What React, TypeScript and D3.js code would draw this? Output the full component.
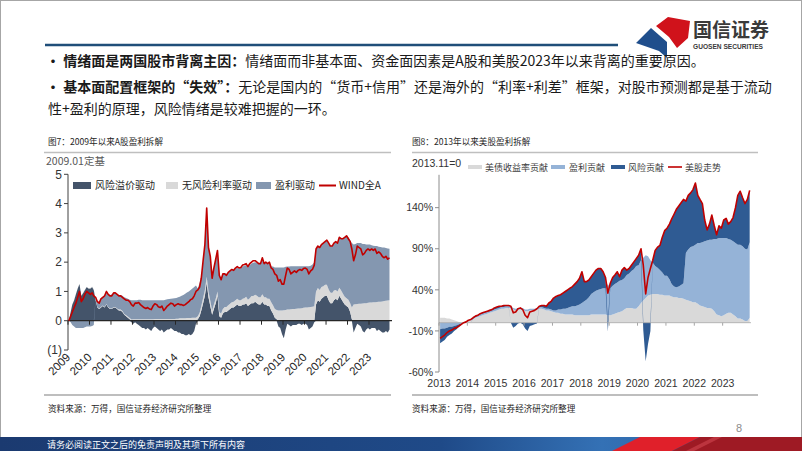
import * as d3 from "d3";

// ---------- 图7：A股盈利拆解（月度，2009.01–2023.12，2009.01定基） ----------
const aRisk = [
  0.0, 0.3, 0.55, 0.7, 0.9, 1.1, 1.25, 0.85, 0.95, 1.05, 1.15, 1.1,
  1.1, 1.15, 1.05, 0.7, 0.45, 0.4, 0.45, 0.5, 0.45, 0.55, 0.45, 0.4,
  0.4, 0.45, 0.45, 0.4, 0.35, 0.35, 0.3, 0.2, 0.15, 0.1, 0.05, -0.05,
  -0.1, -0.05, -0.1, -0.15, -0.2, -0.25, -0.25, -0.3, -0.25, -0.3, -0.35, -0.25,
  -0.2, -0.25, -0.3, -0.35, -0.3, -0.4, -0.35, -0.3, -0.3, -0.25, -0.3, -0.35,
  -0.35, -0.4, -0.4, -0.45, -0.45, -0.5, -0.5, -0.45, -0.5, -0.45, -0.35, -0.1,
  0.05, 0.15, 0.35, 0.6, 0.85, 1.3, 0.8, 0.5, 0.2, 0.4, 0.6, 0.85,
  0.15, 0.1, 0.25, 0.3, 0.3, 0.35, 0.4, 0.45, 0.45, 0.5, 0.55, 0.5,
  0.5, 0.55, 0.55, 0.6, 0.5, 0.55, 0.6, 0.6, 0.65, 0.6, 0.55, 0.55,
  0.65, 0.55, 0.55, 0.5, 0.5, 0.35, 0.25, 0.1, 0.05, -0.2, -0.25, -0.45,
  -0.6, -0.3, -0.1, -0.15, -0.2, -0.15, -0.15, -0.15, -0.1, -0.1, -0.15, -0.1,
  -0.1, -0.15, -0.3, -0.25, -0.2, -0.05, 0.55, 0.7, 0.65, 0.75, 0.8, 0.85,
  0.85, 0.7, 0.6, 0.6, 0.7, 0.75, 0.7, 0.85, 0.75, 0.65, 0.55, 0.5,
  0.45, 0.3, 0.05, -0.4, -0.25, -0.1, -0.15, -0.2, -0.35, -0.4, -0.3, -0.25,
  -0.3, -0.25, -0.25, -0.25, -0.35, -0.3, -0.35, -0.4, -0.4, -0.35, -0.4, -0.3,
];
const aRiskFree = [
  0.01, 0.01, 0.01, 0.01, 0.01, 0.01, 0.01, 0.01, 0.01, 0.01, 0.01, 0.01,
  0.02, 0.02, 0.02, 0.02, 0.02, 0.02, 0.02, 0.02, 0.02, 0.02, 0.02, 0.02,
  0.02, 0.02, 0.02, 0.02, 0.03, 0.03, 0.03, 0.03, 0.04, 0.04, 0.04, 0.04,
  0.05, 0.05, 0.05, 0.05, 0.05, 0.05, 0.05, 0.05, 0.05, 0.05, 0.05, 0.05,
  0.06, 0.06, 0.06, 0.06, 0.06, 0.06, 0.06, 0.06, 0.06, 0.06, 0.06, 0.06,
  0.07, 0.07, 0.08, 0.08, 0.08, 0.08, 0.09, 0.09, 0.09, 0.1, 0.1, 0.1,
  0.1, 0.12, 0.15, 0.18, 0.2, 0.2, 0.2, 0.18, 0.15, 0.15, 0.15, 0.15,
  0.15, 0.15, 0.15, 0.17, 0.17, 0.18, 0.18, 0.18, 0.2, 0.2, 0.2, 0.2,
  0.2, 0.2, 0.22, 0.22, 0.22, 0.22, 0.24, 0.24, 0.24, 0.25, 0.25, 0.25,
  0.25, 0.25, 0.25, 0.25, 0.25, 0.28, 0.28, 0.3, 0.32, 0.35, 0.35, 0.35,
  0.36, 0.37, 0.38, 0.38, 0.39, 0.4, 0.4, 0.41, 0.42, 0.42, 0.43, 0.44,
  0.45, 0.45, 0.46, 0.47, 0.48, 0.49, 0.45, 0.42, 0.4, 0.4, 0.38, 0.38,
  0.38, 0.37, 0.36, 0.35, 0.33, 0.3, 0.3, 0.28, 0.28, 0.27, 0.27, 0.27,
  0.27, 0.3, 0.4, 0.55, 0.56, 0.57, 0.58, 0.58, 0.59, 0.6, 0.6, 0.61,
  0.62, 0.62, 0.63, 0.63, 0.64, 0.65, 0.65, 0.66, 0.67, 0.68, 0.69, 0.7,
];
const aEarn = [
  0.0, -0.05, -0.15, -0.2, -0.25, -0.25, -0.25, -0.25, -0.25, -0.22, -0.2, -0.2,
  -0.2, -0.18, -0.15, 0.05, 0.2, 0.22, 0.3, 0.3, 0.35, 0.45, 0.45, 0.45,
  0.48, 0.48, 0.48, 0.5, 0.5, 0.5, 0.52, 0.57, 0.59, 0.61, 0.63, 0.66,
  0.65, 0.65, 0.65, 0.67, 0.67, 0.65, 0.65, 0.65, 0.65, 0.65, 0.65, 0.65,
  0.64, 0.64, 0.64, 0.64, 0.64, 0.64, 0.66, 0.67, 0.68, 0.69, 0.7, 0.71,
  0.71, 0.73, 0.74, 0.77, 0.8, 0.84, 0.87, 0.91, 0.96, 1.0, 1.05, 1.1,
  0.95, 1.03, 1.0, 1.22, 1.55, 2.35, 1.5, 1.52, 1.1, 1.25, 1.35, 1.4,
  1.25, 1.2, 1.2, 1.15, 1.13, 1.12, 1.12, 1.1, 1.07, 1.08, 1.05, 1.08,
  1.1, 1.1, 1.11, 1.08, 1.13, 1.13, 1.11, 1.14, 1.11, 1.13, 1.15, 1.15,
  1.2, 1.15, 1.18, 1.2, 1.2, 1.22, 1.32, 1.42, 1.45, 1.47, 1.47, 1.47,
  1.46, 1.47, 1.47, 1.47, 1.47, 1.46, 1.46, 1.45, 1.44, 1.44, 1.43, 1.42,
  1.41, 1.41, 1.4, 1.41, 1.44, 1.51, 1.45, 1.43, 1.45, 1.45, 1.47, 1.47,
  1.52, 1.58, 1.59, 1.6, 1.62, 1.65, 1.65, 1.72, 1.77, 1.88, 2.03, 2.13,
  2.13, 2.15, 2.2, 2.05, 2.06, 2.08, 2.07, 2.07, 2.03, 2.02, 2.0, 1.99,
  1.98, 1.96, 1.93, 1.92, 1.91, 1.88, 1.87, 1.84, 1.83, 1.8, 1.78, 1.76,
];
const aWind = [
  0.0, 0.15, 0.3, 0.45, 0.6, 0.8, 1.0, 0.65, 0.75, 0.9, 1.0, 0.95,
  0.9, 0.95, 0.85, 0.8, 0.65, 0.6, 0.75, 0.8, 0.85, 1.0, 0.9, 0.85,
  0.85, 0.95, 0.95, 0.9, 0.85, 0.85, 0.8, 0.75, 0.7, 0.7, 0.65, 0.55,
  0.5, 0.6, 0.6, 0.62, 0.55, 0.5, 0.45, 0.42, 0.45, 0.4, 0.38, 0.5,
  0.58, 0.55, 0.48, 0.45, 0.5, 0.35, 0.42, 0.5, 0.55, 0.6, 0.58, 0.5,
  0.55, 0.58, 0.55, 0.55, 0.52, 0.55, 0.6, 0.65, 0.72, 0.75, 0.85, 1.0,
  1.05, 1.15, 1.45, 2.05, 2.6, 3.85, 2.5, 2.2, 1.45, 1.8, 2.1, 2.4,
  1.55, 1.4, 1.6, 1.6, 1.55, 1.65, 1.7, 1.75, 1.72, 1.8, 1.85, 1.8,
  1.82, 1.9, 1.92, 1.95, 1.85, 1.95, 2.0, 2.05, 2.05, 2.0, 1.95, 1.95,
  2.15, 1.95, 2.0, 1.95, 2.0, 1.8, 1.75, 1.6, 1.55, 1.35, 1.4, 1.25,
  1.25, 1.55, 1.8, 1.75, 1.6, 1.65, 1.7, 1.65, 1.72, 1.75, 1.72, 1.78,
  1.8, 1.75, 1.6, 1.7, 1.75, 1.9, 2.45, 2.55, 2.5, 2.6, 2.65, 2.7,
  2.75, 2.65, 2.55, 2.55, 2.65, 2.7, 2.65, 2.85, 2.8, 2.8, 2.85, 2.9,
  2.8, 2.7, 2.45, 2.05, 2.25, 2.55, 2.5, 2.45, 2.25, 2.3, 2.4, 2.45,
  2.4, 2.45, 2.4, 2.45, 2.3, 2.35, 2.3, 2.2, 2.15, 2.2, 2.1, 2.15,
];
const aYearLabels = ["2009", "2010", "2011", "2012", "2013", "2014", "2015", "2016", "2017", "2018", "2019", "2020", "2021", "2022", "2023"];
const aYTicks = [-1, 0, 1, 2, 3, 4, 5];

// ---------- 图8：美股盈利拆解（月度，2013.01–2023.12，%，2013.11=0） ----------
const usYield = [
  6, 6, 6, 5, 5, 4, 3, 2, 1, 0, 0, 0,
  2, 3, 4, 6, 7, 8, 9, 10, 11, 12, 13, 14,
  15, 16, 17, 17, 18, 18, 18, 16, 15, 16, 16, 16,
  14, 14, 15, 15, 15, 16, 17, 17, 16, 15, 15, 14,
  13, 12, 12, 11, 11, 10, 10, 10, 10, 9, 9, 9,
  9, 9, 9, 9, 10, 10, 10, 10, 10, 10, 10, 9,
  9, 10, 11, 12, 13, 14, 16, 18, 18, 18, 17, 17,
  20, 24, 27, 30, 33, 34, 35, 35, 35, 34, 34, 33,
  33, 33, 32, 31, 31, 30, 30, 29, 28, 27, 26, 25,
  25, 23, 21, 20, 19, 18, 18, 17, 14, 10, 9, 8,
  9, 11, 12, 12, 10, 8, 5, 5, 4, 2, 2, 6,
];
const usEarn = [
  -8, -7, -7, -6, -5, -5, -4, -3, -2, -1, 0, 1,
  1, 1, 1, 1, 1.5, 2, 2, 2, 2, 2, 2, 2,
  2, 2, 2, 2, 2, 2, 2, 2, 2, 2, 2, 2,
  2, 2, 2, 2, 2, 2, 2, 2, 2, 2, 2, 2,
  2, 3, 4, 5, 6, 7, 8, 9, 10, 11, 12, 13,
  15, 17, 19, 22, 25, 27, 29, 30, 31, 32, 32, 38,
  33, 35, 36, 37, 38, 38, 38, 40, 42, 45, 48, 52,
  50, 52, 52, 52, 48, 42, 38, 34, 32, 30, 27, 24,
  24, 20, 15, 13, 12, 14, 16, 19, 57, 62, 66, 68,
  70, 74, 76, 78, 80, 82, 83, 84, 88, 92, 94, 95,
  94, 92, 90, 89, 89, 89, 90, 90, 89, 88, 87, 92,
];
const usRisk = [
  -17, -16, -14, -11, -10, -8, -6, -5, -3, -1, 0, 0,
  0, 0, 1, 1, 0.5, 1, 1, 1, 1, 1, 1, 2,
  2, 2, 1, 2, 1, 1, 0, -6, -4, -1, 0, -2,
  -7, -10, -4, -3, -2, -1, 1, 2, 3, 3, 7, 10,
  15, 17, 17, 18, 19, 21, 22, 23, 24, 27, 29, 32,
  38, 24, 22, 21, 21, 23, 25, 26, 25, 20, 13, -11,
  6, 10, 11, 13, 5, 12, 13, 6, 6, 7, 9, 9,
  12, 14, -9, -47, -26, -10, 3, 19, 25, 30, 43, 55,
  58, 67, 79, 88, 95, 98, 100, 102, 63, 66, 66, 69,
  75, 58, 53, 47, 26, 13, 19, 30, 16, 5, 15, 12,
  22, 24, 18, 22, 29, 43, 60, 65, 59, 55, 61, 63,
];
const usIndex = [
  -19, -17, -15, -12, -10, -9, -7, -6, -4, -2, 0, 1,
  3, 4, 6, 8, 9, 11, 12, 13, 14, 15, 16, 18,
  19, 20, 20, 21, 21, 21, 20, 12, 13, 17, 18, 16,
  9, 6, 13, 14, 15, 17, 20, 21, 21, 20, 24, 26,
  30, 32, 33, 34, 36, 38, 40, 42, 44, 47, 50, 54,
  62, 50, 50, 52, 56, 60, 64, 66, 66, 62, 55, 36,
  48, 55, 58, 62, 56, 64, 67, 64, 66, 70, 74, 78,
  82, 90, 70, 35, 55, 66, 76, 88, 92, 94, 104, 112,
  115, 120, 126, 132, 138, 142, 146, 150, 148, 155, 158, 162,
  170, 155, 150, 145, 125, 113, 120, 131, 118, 107, 118, 115,
  125, 127, 120, 123, 128, 140, 155, 160, 152, 145, 150, 161,
];
const usYearLabels = ["2013", "2014", "2015", "2016", "2017", "2018", "2019", "2020", "2021", "2022", "2023"];
const usYTicks = [-60, -10, 40, 90, 140];

const CN = "'Noto Sans CJK SC', 'Noto Sans', sans-serif";
const NUM = "'Liberation Sans', Arial, sans-serif";

type Row = { date: Date; a: number; b: number; c: number };

function stackRows(dates: Date[], a: number[], b: number[], c: number[]) {
  const rows: Row[] = dates.map((d, i) => ({ date: d, a: a[i], b: b[i], c: c[i] }));
  return d3
    .stack<Row>()
    .keys(["a", "b", "c"])
    .value((r, k) => r[k as "a" | "b" | "c"])
    .offset(d3.stackOffsetDiverging)(rows);
}

function AChart() {
  const dates = aWind.map((_, i) => new Date(2009, i, 15));
  const x = d3.scaleTime().domain([new Date(2009, 0, 1), new Date(2024, 0, 1)]).range([68, 390.5]);
  const y = d3.scaleLinear().domain([-1, 5]).range([350, 174.3]);
  const series = stackRows(dates, aRisk, aRiskFree, aEarn);
  const colors = ["#44546a", "#d9d9d9", "#8497b0"];
  const area = d3
    .area<d3.SeriesPoint<Row>>()
    .x((d) => x(d.data.date))
    .y0((d) => y(d[0]))
    .y1((d) => y(d[1]));
  const line = d3
    .line<number>()
    .x((_, i) => x(dates[i]))
    .y((d) => y(d));
  const years = aYearLabels.map((s) => new Date(+s, 0, 1));

  const legend = [
    { label: "风险溢价驱动", color: colors[0], x: 73, w: 18 },
    { label: "无风险利率驱动", color: colors[1], x: 166, w: 12 },
    { label: "盈利驱动", color: colors[2], x: 256, w: 15 },
  ];

  return (
    <g>
      <text x={46} y={165} fontSize={10.5} fill="#595959" fontFamily={CN}>
        2009.01定基
      </text>
      {series.map((s, i) => (
        <path key={i} d={area(s) ?? ""} fill={colors[i]} />
      ))}
      {/* y axis */}
      <line x1={68} x2={68} y1={y(5)} y2={y(-1)} stroke="#404040" />
      {aYTicks.map((t) => (
        <g key={t}>
          <line x1={64} x2={68} y1={y(t)} y2={y(t)} stroke="#404040" />
          <text x={62} y={y(t)} dy="0.35em" textAnchor="end" fontSize={12} fill="#333" fontFamily={NUM}>
            {t < 0 ? `(${-t})` : t}
          </text>
        </g>
      ))}
      {/* zero line with year ticks */}
      <line x1={68} x2={392} y1={y(0)} y2={y(0)} stroke="#262626" strokeWidth={1.2} />
      {years.map((d, i) => (
        <line key={i} x1={x(d)} x2={x(d)} y1={y(0)} y2={y(0) + 4} stroke="#262626" />
      ))}
      {years.map((d, i) => (
        <text
          key={i}
          transform={`translate(${x(d) + 3},${358}) rotate(-45)`}
          textAnchor="end"
          fontSize={11.5}
          fill="#262626"
          fontFamily={NUM}
        >
          {aYearLabels[i]}
        </text>
      ))}
      <path d={line(aWind) ?? ""} fill="none" stroke="#c00000" strokeWidth={1.6} strokeLinejoin="round" />
      {/* legend */}
      {legend.map((l) => (
        <g key={l.label}>
          <rect x={l.x} y={182} width={l.w} height={7} fill={l.color} />
          <text x={l.x + l.w + 4} y={189} fontSize={10} fill="#262626" fontFamily={CN}>
            {l.label}
          </text>
        </g>
      ))}
      <line x1={319} x2={336} y1={185.5} y2={185.5} stroke="#c00000" strokeWidth={2} />
      <text x={339} y={189} fontSize={10} fill="#262626" fontFamily={CN}>
        WIND全A
      </text>
    </g>
  );
}

function USChart() {
  const dates = usIndex.map((_, i) => new Date(2013, i, 15));
  const x = d3.scaleTime().domain([new Date(2013, 0, 1), new Date(2024, 0, 1)]).range([439, 751]);
  const y = d3.scaleLinear().domain([-60, 180]).range([372, 174.8]);
  const series = stackRows(dates, usYield, usEarn, usRisk);
  const colors = ["#d9d9d9", "#95b3d7", "#2f5b93"];
  const area = d3
    .area<d3.SeriesPoint<Row>>()
    .x((d) => x(d.data.date))
    .y0((d) => y(d[0]))
    .y1((d) => y(d[1]));
  const line = d3
    .line<number>()
    .x((_, i) => x(dates[i]))
    .y((d) => y(d));
  const years = usYearLabels.map((s) => new Date(+s, 0, 1));

  const legend = [
    { label: "美债收益率贡献", color: colors[0], x: 468, tx: 485 },
    { label: "盈利贡献", color: colors[1], x: 551, tx: 569 },
    { label: "风险贡献", color: colors[2], x: 611, tx: 628 },
  ];

  return (
    <g>
      <text x={412} y={167} fontSize={10.5} fill="#333" fontFamily={NUM}>
        2013.11=0
      </text>
      {series.map((s, i) => (
        <path key={i} d={area(s) ?? ""} fill={colors[i]} />
      ))}
      <line x1={439} x2={751} y1={y(0)} y2={y(0)} stroke="#a6a6a6" strokeWidth={0.8} />
      {years.map((d, i) => (
        <line key={i} x1={x(d)} x2={x(d)} y1={y(0)} y2={y(0) + 3} stroke="#a6a6a6" />
      ))}
      <path d={line(usIndex) ?? ""} fill="none" stroke="#c00000" strokeWidth={1.6} strokeLinejoin="round" />
      {/* y axis */}
      <line x1={439} x2={439} y1={y(180)} y2={y(-60)} stroke="#8c8c8c" />
      {usYTicks.map((t) => (
        <g key={t}>
          <line x1={435} x2={439} y1={y(t)} y2={y(t)} stroke="#8c8c8c" />
          <text x={433} y={y(t)} dy="0.35em" textAnchor="end" fontSize={10.5} fill="#333" fontFamily={NUM}>
            {`${t}%`}
          </text>
        </g>
      ))}
      {years.map((d, i) => (
        <text key={i} x={x(d)} y={387} textAnchor="middle" fontSize={10.5} fill="#333" fontFamily={NUM}>
          {usYearLabels[i]}
        </text>
      ))}
      {/* legend */}
      {legend.map((l) => (
        <g key={l.label}>
          <rect x={l.x} y={165} width={14} height={4} fill={l.color} />
          <text x={l.tx} y={171} fontSize={9} fill="#404040" fontFamily={CN}>
            {l.label}
          </text>
        </g>
      ))}
      <line x1={668} x2={682} y1={167} y2={167} stroke="#c00000" strokeWidth={1.6} />
      <text x={685} y={171} fontSize={9} fill="#404040" fontFamily={CN}>
        美股走势
      </text>
    </g>
  );
}

export default function App() {
  return (
    <svg
      width={802}
      height={451}
      viewBox="0 0 802 451"
      style={{ position: "absolute", left: 0, top: 0, background: "#fff" }}
    >
      <defs>
        <linearGradient id="foot" x1="0" x2="1" y1="0" y2="0">
          <stop offset="0" stopColor="#1b3a70" />
          <stop offset="0.55" stopColor="#1f4a88" />
          <stop offset="0.75" stopColor="#3471b5" />
          <stop offset="1" stopColor="#2a5a9a" />
        </linearGradient>
      </defs>
      <rect x={0.5} y={0.5} width={801} height={450} fill="#fff" stroke="#a6a6a6" />

      {/* header */}
      <line x1={45} x2={618} y1={45} y2={45} stroke="#1f4e79" strokeWidth={2.5} />
      <path d="M636,43 L651,28 L667,42 L667,58 L659,51 Z" fill="#1f4e8c" />
      <path d="M656,26 L668,17 L690,21 L688,38 L677,48 L669,37 Z" fill="#d0121b" />
      <text x={693} y={37} fontSize={19} fill="#3a3a3a" fontFamily={CN} fontWeight="bold">
        国信证券
      </text>
      <text x={693} y={49} fontSize={6.6} fill="#3a3a3a" fontFamily={NUM} fontWeight="bold">
        GUOSEN SECURITIES
      </text>

      <g fontFamily={CN} fontSize={14} fill="#1a1a1a">
        <text x={46} y={66}>
          <tspan fontWeight="bold">· 情绪面是两国股市背离主因：</tspan>
          <tspan>情绪面而非基本面、资金面因素是A股和美股2023年以来背离的重要原因。</tspan>
        </text>
        <text x={46} y={92}>
          <tspan fontWeight="bold">· 基本面配置框架的“失效”：</tspan>
          <tspan>无论是国内的“货币+信用”还是海外的“利率+利差”框架，对股市预测都是基于流动</tspan>
        </text>
        <text x={48} y={114}>性+盈利的原理，风险情绪是较难把握的一环。</text>
      </g>

      {/* titles */}
      <g fontFamily={CN} fontSize={8.6} fill="#262626">
        <text x={48} y={145}>图7：2009年以来A股盈利拆解</text>
        <text x={412} y={145}>图8：2013年以来美股盈利拆解</text>
      </g>
      <line x1={44} x2={391} y1={152.5} y2={152.5} stroke="#bfbfbf" strokeWidth={1.5} />
      <line x1={412} x2={758} y1={152.5} y2={152.5} stroke="#bfbfbf" strokeWidth={1.5} />

      <AChart />
      <USChart />

      <line x1={44} x2={391} y1={395} y2={395} stroke="#7f7f7f" strokeWidth={1.2} />
      <line x1={412} x2={758} y1={395} y2={395} stroke="#7f7f7f" strokeWidth={1.2} />
      <g fontFamily={CN} fontSize={8.6} fill="#262626">
        <text x={48} y={412}>资料来源：万得，国信证券经济研究所整理</text>
        <text x={412} y={412}>资料来源：万得，国信证券经济研究所整理</text>
      </g>
      <text x={736} y={432} fontSize={11} fill="#8c8c8c" fontFamily={NUM}>
        8
      </text>

      {/* footer */}
      <rect x={0} y={437} width={802} height={14} fill="url(#foot)" />
      <path d="M612,451 L640,437 L700,437 L672,451 Z" fill="#e0202a" />
      <path d="M672,451 L700,437 L802,437 L802,451 Z" fill="#9e1a24" />
      <path d="M686,451 L714,437 L722,437 L694,451 Z" fill="#c9404a" opacity={0.7} />
      <text x={47} y={447.5} fontSize={9} fill="#fff" fontFamily={CN}>
        请务必阅读正文之后的免责声明及其项下所有内容
      </text>
    </svg>
  );
}
